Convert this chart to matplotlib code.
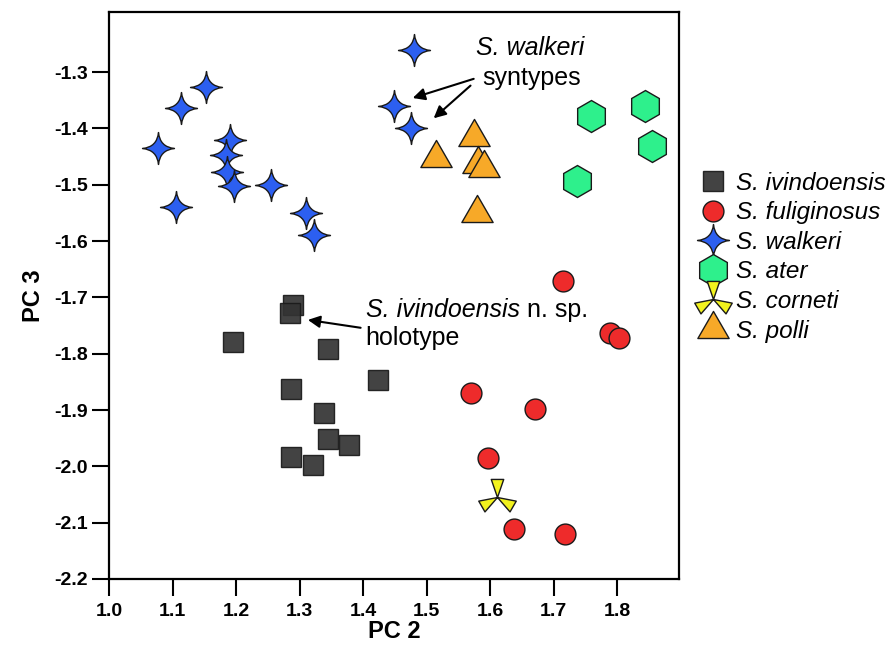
import numpy as np
import matplotlib
matplotlib.use("Agg")
import matplotlib.pyplot as plt
from matplotlib.path import Path

plt.rcParams['font.family'] = ['Liberation Sans', 'DejaVu Sans']

# PC 2 / PC 3 scores
ivindoensis_x = [1.289, 1.285, 1.195, 1.344, 1.423, 1.286, 1.338, 1.344, 1.377, 1.286, 1.321]
ivindoensis_y = [-1.713, -1.727, -1.780, -1.791, -1.846, -1.862, -1.905, -1.952, -1.963, -1.983, -1.997]

fuliginosus_x = [1.714, 1.789, 1.803, 1.569, 1.671, 1.596, 1.638, 1.717]
fuliginosus_y = [-1.671, -1.763, -1.772, -1.869, -1.898, -1.986, -2.112, -2.121]

walkeri_x = [1.480, 1.153, 1.113, 1.448, 1.475, 1.077, 1.190, 1.184, 1.186, 1.197, 1.255, 1.105, 1.310, 1.322]
walkeri_y = [-1.261, -1.327, -1.364, -1.360, -1.399, -1.435, -1.421, -1.447, -1.477, -1.502, -1.500, -1.539, -1.550, -1.589]

ater_x = [1.759, 1.843, 1.854, 1.736]
ater_y = [-1.378, -1.360, -1.431, -1.493]

corneti_x = [1.610]
corneti_y = [-2.054]

polli_x = [1.574, 1.514, 1.580, 1.590, 1.579]
polli_y = [-1.415, -1.452, -1.463, -1.470, -1.550]

xticks = [1.0, 1.1, 1.2, 1.3, 1.4, 1.5, 1.6, 1.7, 1.8]
yticks = [-2.2, -2.1, -2.0, -1.9, -1.8, -1.7, -1.6, -1.5, -1.4, -1.3]


# four pointed star with curved sides
c = 0.09
star_verts = [(0, 1), (c, c), (1, 0), (c, -c), (0, -1), (-c, -c), (-1, 0), (-c, c), (0, 1), (0, 1)]
star_codes = [Path.MOVETO] + [Path.CURVE3] * 8 + [Path.CLOSEPOLY]
star = Path(star_verts, star_codes)

# three blades meeting in the middle
blade_verts = []
blade_codes = []
half = np.radians(19)
for ang in [90, 210, 330]:
    t = np.radians(ang)
    blade_verts += [(0, 0), (np.cos(t - half), np.sin(t - half)),
                    (np.cos(t + half), np.sin(t + half)), (0, 0)]
    blade_codes += [Path.MOVETO, Path.LINETO, Path.LINETO, Path.CLOSEPOLY]
blades = Path(blade_verts, blade_codes)

# equilateral triangle
tri = Path([(-1, -0.577), (1, -0.577), (0, 1.155), (-1, -0.577)],
           [Path.MOVETO, Path.LINETO, Path.LINETO, Path.CLOSEPOLY])

fig = plt.figure(figsize=(8.96, 6.52), dpi=100)
ax = fig.add_axes([0.1217, 0.112, 0.636, 0.869])

ec = '#1a1a1a'
ax.plot(ivindoensis_x, ivindoensis_y, ls='none', marker='s', ms=15, mfc='#333333',
        mec=ec, mew=1, alpha=0.92, label='S. ivindoensis', zorder=3)
ax.plot(fuliginosus_x, fuliginosus_y, ls='none', marker='o', ms=15, mfc='#ee2b2b',
        mec=ec, mew=1, label='S. fuliginosus', zorder=3)
ax.plot(walkeri_x, walkeri_y, ls='none', marker=star, ms=23, mfc='#2c5ff0',
        mec=ec, mew=1, label='S. walkeri', zorder=3)
ax.plot(ater_x, ater_y, ls='none', marker='h', ms=23, mfc='#2ef08c',
        mec=ec, mew=1, label='S. ater', zorder=3)
ax.plot(corneti_x, corneti_y, ls='none', marker=blades, ms=27, mfc='#f2f21e',
        mec=ec, mew=1, label='S. corneti', zorder=3)
ax.plot(polli_x, polli_y, ls='none', marker=tri, ms=26, mfc='#f7a928',
        mec=ec, mew=1, label='S. polli', zorder=3)

ax.set_xlim(1.0, 1.897)
ax.set_ylim(-2.2, -1.194)
ax.set_xticks(xticks)
ax.set_yticks(yticks)
ax.set_xticklabels(['%.1f' % v for v in xticks], fontweight='bold', fontsize=14)
ax.set_yticklabels(['%.1f' % v for v in yticks], fontweight='bold', fontsize=14)
ax.tick_params(direction='out', length=12, width=1.5)
ax.tick_params(axis='x', pad=5)
ax.tick_params(axis='y', pad=3.5)
for s in ax.spines.values():
    s.set_linewidth(1.6)

ax.set_xlabel('PC 2', fontsize=17, fontweight='bold', labelpad=0)
ax.set_ylabel('PC 3', fontsize=17, fontweight='bold', labelpad=6)

# annotations
ax.text(1.663, -1.257, 'S. walkeri', fontsize=18, style='italic', ha='center', va='center')
ax.text(1.665, -1.311, 'syntypes', fontsize=18, ha='center', va='center')
arr = dict(arrowstyle='-|>', color='black', lw=1.5, mutation_scale=18, shrinkA=0, shrinkB=0)
ax.annotate('', xy=(1.478, -1.346), xytext=(1.574, -1.312), arrowprops=arr)
ax.annotate('', xy=(1.511, -1.382), xytext=(1.569, -1.324), arrowprops=arr)

t1 = ax.text(1.404, -1.722, 'S. ivindoensis', fontsize=18, style='italic', ha='left', va='center')
ax.annotate(' n. sp.', xy=(1, 0.5), xycoords=t1, fontsize=18, ha='left', va='center')
ax.text(1.404, -1.772, 'holotype', fontsize=18, ha='left', va='center')
ax.annotate('', xy=(1.313, -1.740), xytext=(1.396, -1.754), arrowprops=arr)

leg = ax.legend(loc='upper left', bbox_to_anchor=(1.0206, 0.736), frameon=False,
                prop={'style': 'italic', 'size': 17.5}, handlelength=1.0,
                handletextpad=0.45, labelspacing=0.27, borderaxespad=0)

fig.savefig('out.png', dpi=100)
